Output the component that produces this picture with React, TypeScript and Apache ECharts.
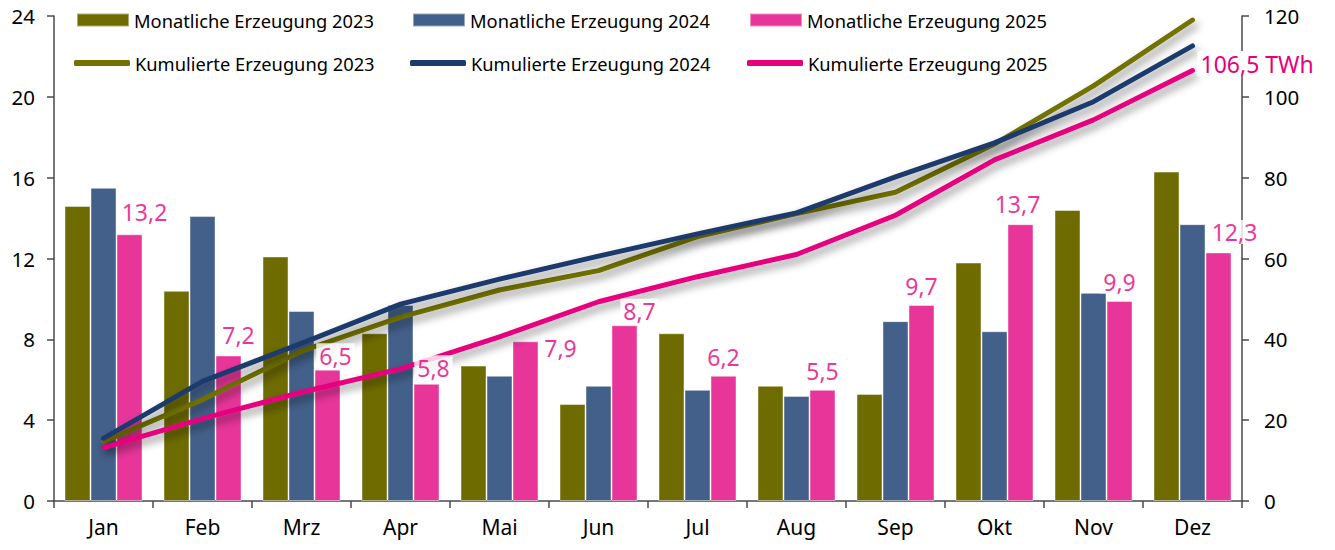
import React, { useEffect, useRef } from "react";
import * as echarts from "echarts";

const months = ["Jan", "Feb", "Mrz", "Apr", "Mai", "Jun", "Jul", "Aug", "Sep", "Okt", "Nov", "Dez"];
const monthly2023 = [14.6, 10.4, 12.1, 8.3, 6.7, 4.8, 8.3, 5.7, 5.3, 11.8, 14.4, 16.3];
const monthly2024 = [15.5, 14.1, 9.4, 9.7, 6.2, 5.7, 5.5, 5.2, 8.9, 8.4, 10.3, 13.7];
const monthly2025 = [13.2, 7.2, 6.5, 5.8, 7.9, 8.7, 6.2, 5.5, 9.7, 13.7, 9.9, 12.3];
const cumulative2023 = [14.7, 25.1, 37.1, 45.5, 52.2, 57.0, 65.4, 71.1, 76.4, 88.3, 102.7, 119.0];
const cumulative2024 = [15.5, 29.6, 39.0, 48.7, 54.9, 60.6, 66.1, 71.3, 80.2, 88.6, 98.8, 112.6];
const cumulative2025 = [13.2, 20.4, 26.9, 32.7, 40.6, 49.3, 55.5, 61.0, 70.7, 84.4, 94.3, 106.5];
const leftTicks = { min: 0, max: 24, interval: 4 };
const rightTicks = { min: 0, max: 120, interval: 20 };

const names = {
  m23: "Monatliche Erzeugung 2023",
  m24: "Monatliche Erzeugung 2024",
  m25: "Monatliche Erzeugung 2025",
  c23: "Kumulierte Erzeugung 2023",
  c24: "Kumulierte Erzeugung 2024",
  c25: "Kumulierte Erzeugung 2025",
};

const FONT = "Noto Sans";
const C_OLIVE = "#6E6B00";
const C_BLUE = "#43608A";
const C_PINK = "#E8359A";
const L_OLIVE = "#727200";
const L_NAVY = "#1C3B6C";
const L_PINK = "#E6007E";

// label placement tweaks (layout only)
const labelShift: [number, number][] = [
  [15, -5], [10, -4], [8, 3], [7, 1], [35, 24], [15, 3],
  [0, -2], [0, -2], [0, -2], [-3, -3], [0, -2], [16, -3],
];

const fmt = (v: number) => String(v.toFixed(1)).replace(".", ",");

export default function App() {
  const ref = useRef<HTMLDivElement>(null);
  useEffect(() => {
    document.body.style.margin = "0";
    const chart = echarts.init(ref.current!, null, { renderer: "svg" });
    const textStyle = { fontFamily: FONT, color: "#000", fontSize: 18 };
    const barBorder = { borderColor: "rgba(255,255,255,0.45)", borderWidth: 1 };
    const lineShadow = {
      width: 5,
      cap: "round",
      join: "round",
      shadowColor: "rgba(0,0,0,0.45)",
      shadowBlur: 8,
      shadowOffsetX: 3,
      shadowOffsetY: 5,
    };
    const legendAt = (name: string, left: number, top: number, line: boolean) => ({
      data: [name],
      left,
      top,
      icon: line ? "roundRect" : "rect",
      itemWidth: line ? 56 : 52,
      itemHeight: line ? 6 : 13,
      itemGap: 0,
      padding: 0,
      textStyle: { ...textStyle, fontSize: 18.3, padding: [0, 0, 0, 0] },
    });
    chart.setOption({
      animation: false,
      textStyle: { fontFamily: FONT },
      grid: { left: 54, right: 93, top: 16, bottom: 49, containLabel: false },
      legend: [
        legendAt(names.m23, 76, 11, false),
        legendAt(names.m24, 412, 11, false),
        legendAt(names.m25, 749, 11, false),
        legendAt(names.c23, 74, 54, true),
        legendAt(names.c24, 410, 54, true),
        legendAt(names.c25, 747, 54, true),
      ],
      xAxis: {
        type: "category",
        data: months,
        axisLine: { lineStyle: { color: "#4a4a4a", width: 1.5 } },
        axisTick: { show: true, length: 7, lineStyle: { color: "#4a4a4a", width: 1.5 } },
        axisLabel: { ...textStyle, fontSize: 21, margin: 15 },
      },
      yAxis: [
        {
          type: "value",
          ...leftTicks,
          position: "left",
          splitLine: { show: false },
          axisLine: { show: true, lineStyle: { color: "#4a4a4a", width: 1.5 } },
          axisTick: { show: true, length: 7, lineStyle: { color: "#4a4a4a", width: 1.5 } },
          axisLabel: { ...textStyle, fontSize: 20.5, margin: 19 },
        },
        {
          type: "value",
          ...rightTicks,
          position: "right",
          splitLine: { show: false },
          axisLine: { show: true, lineStyle: { color: "#4a4a4a", width: 1.5 } },
          axisTick: { show: true, length: 7, lineStyle: { color: "#4a4a4a", width: 1.5 } },
          axisLabel: { ...textStyle, fontSize: 20.5, margin: 22 },
        },
      ],
      series: [
        { name: names.m23, type: "bar", data: monthly2023, barWidth: 26, barGap: "0%", z: 2, itemStyle: { color: C_OLIVE, ...barBorder } },
        { name: names.m24, type: "bar", data: monthly2024, barWidth: 26, barGap: "0%", z: 2, itemStyle: { color: C_BLUE, ...barBorder } },
        { name: names.m25, type: "bar", data: monthly2025, barWidth: 26, barGap: "0%", z: 2, itemStyle: { color: C_PINK, ...barBorder } },
        { name: names.c23, type: "line", yAxisIndex: 1, data: cumulative2023, showSymbol: false, symbol: "none", z: 3, itemStyle: { color: L_OLIVE }, lineStyle: { color: L_OLIVE, ...lineShadow } },
        { name: names.c24, type: "line", yAxisIndex: 1, data: cumulative2024, showSymbol: false, symbol: "none", z: 3, itemStyle: { color: L_NAVY }, lineStyle: { color: L_NAVY, ...lineShadow } },
        {
          name: names.c25, type: "line", yAxisIndex: 1, data: cumulative2025, showSymbol: false, symbol: "none", z: 4,
          itemStyle: { color: L_PINK }, lineStyle: { color: L_PINK, ...lineShadow },
          endLabel: {
            show: true,
            formatter: (p: any) => `${fmt(p.value)} TWh`,
            color: L_PINK,
            fontFamily: FONT,
            fontSize: 23,
            backgroundColor: "#fff",
            padding: [2, 3, 0, 3],
            distance: 5,
            offset: [0, -7],
          },
        },
        {
          name: "labels2025",
          type: "scatter",
          data: monthly2025.map((v, i) => ({
            value: v,
            label: { offset: [26 + labelShift[i][0], labelShift[i][1]] },
          })),
          symbolSize: 1,
          z: 10,
          silent: true,
          itemStyle: { color: "rgba(0,0,0,0)" },
          label: {
            show: true,
            position: "top",
            distance: 5,
            formatter: (p: any) => fmt(p.value),
            color: L_PINK,
            fontFamily: FONT,
            fontSize: 23,
            backgroundColor: "#fff",
            padding: [1, 3, 0, 3],
          },
        },
      ],
    });
    return () => chart.dispose();
  }, []);
  return <div ref={ref} style={{ width: 1335, height: 550 }} />;
}
